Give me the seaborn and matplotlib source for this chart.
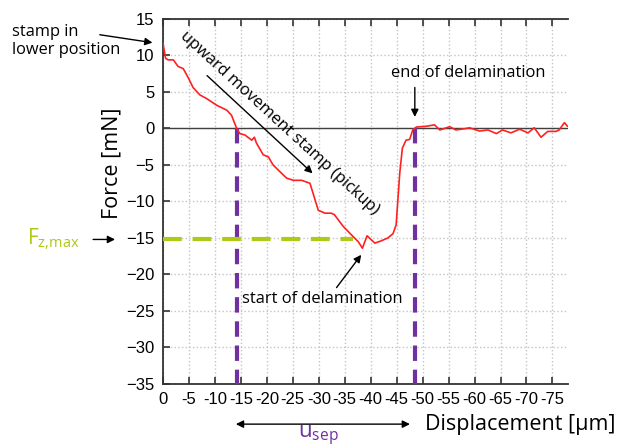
"""Force vs displacement curve of a stamp pickup (delamination test)."""

import matplotlib

matplotlib.use("Agg")
import matplotlib.pyplot as plt
import pandas as pd
import seaborn as sns

displacement = [
    0.0, -0.5, -1.0, -2.0, -2.9, -3.9, -4.9, -5.8, -7.1, -8.4, -10.3, -12.3,
    -13.2, -14.2, -14.8, -15.8, -17.1, -17.6, -18.0, -19.3, -20.3, -21.2,
    -22.5, -23.8, -25.1, -26.7, -28.3, -29.3, -29.9, -31.2, -32.4, -33.0,
    -34.7, -36.6, -37.6, -38.4, -39.3, -40.8, -42.0, -43.3, -44.3, -44.9,
    -45.6, -46.1, -46.8, -47.5, -48.1, -48.8, -50.7, -52.3, -53.3, -54.2,
    -55.2, -56.4, -58.4, -59.0, -61.0, -62.6, -64.2, -65.4, -67.0, -68.7,
    -70.3, -71.5, -72.8, -74.1, -75.7, -76.3, -77.3, -77.9,
]
force = [
    11.7, 9.6, 9.4, 9.4, 8.5, 8.2, 6.9, 5.6, 4.6, 4.1, 3.2, 2.5,
    1.8, 0.0, -0.7, -0.9, -1.6, -1.2, -2.0, -3.6, -3.9, -5.0,
    -5.9, -6.8, -7.1, -7.1, -7.5, -9.8, -11.2, -11.6, -11.6, -11.8,
    -13.4, -14.8, -15.5, -16.4, -14.7, -15.7, -15.4, -15.0, -14.4, -13.2,
    -6.1, -2.7, -1.6, -1.5, -0.2, 0.2, 0.3, 0.5, -0.2, 0.0,
    0.25, -0.2, 0.0, 0.1, -0.35, -0.2, -0.7, -0.2, -0.6, -0.1,
    -0.6, 0.1, -1.2, -0.4, -0.4, -0.2, 0.8, 0.3,
]

SEP_START = -14.2   # start of separation (force crosses zero)
SEP_END = -48.5     # end of delamination
FZ_MAX = -15.2      # maximum pull-off force
FZ_LINE_END = -36.5

x_ticks = list(range(0, -80, -5))
y_ticks = list(range(-35, 20, 5))

PURPLE = "#7030a0"
LIME = "#b0c818"
RED = "#ff2020"
ANNOT_FONT = "Open Sans"

sns.set_theme(style="white")
plt.rcParams["font.family"] = ["Liberation Sans", "DejaVu Sans"]
plt.rcParams["text.color"] = "black"
plt.rcParams["xtick.color"] = "black"
plt.rcParams["ytick.color"] = "black"

df = pd.DataFrame({"displacement": displacement, "force": force})

fig = plt.figure(figsize=(6.25, 4.48), dpi=100)
ax = fig.add_axes([0.2608, 0.1429, 0.648, 0.8147])

ax.grid(True, color="#c4c4c4", linestyle=":", linewidth=1.0)
ax.axhline(0, color="#404040", linewidth=1.0, zorder=1)

sns.lineplot(data=df, x="displacement", y="force", color=RED, linewidth=1.2,
             sort=False, ax=ax, zorder=4)

ax.plot([SEP_START, SEP_START], [0, -35], color=PURPLE, linewidth=3,
        dashes=(3.7, 2.1), zorder=3)
ax.plot([SEP_END, SEP_END], [0, -35], color=PURPLE, linewidth=3,
        dashes=(3.7, 2.1), zorder=3)
ax.plot([0, FZ_LINE_END], [FZ_MAX, FZ_MAX], color=LIME, linewidth=3,
        dashes=(4.5, 2.6), zorder=3)

ax.set_xlim(0, -78)
ax.set_ylim(-35, 15)
ax.set_xticks(x_ticks)
ax.set_xticklabels([str(t) for t in x_ticks])
ax.set_yticks(y_ticks)
ax.set_xlabel("")
ax.set_ylabel("")
ax.tick_params(direction="in", top=True, right=False, bottom=True, left=True,
               length=5, width=1.2, color="#333333", labelsize=12, pad=6,
               labelcolor="black")
for side in ["left", "top", "bottom"]:
    ax.spines[side].set_color("#333333")
    ax.spines[side].set_linewidth(1.3)
ax.spines["right"].set_visible(False)

arrow = dict(arrowstyle="-|>", color="black", linewidth=1.0, mutation_scale=11)

# stamp in lower position
fig.text(12 / 625, 1 - 41 / 448, "stamp in\nlower position", ha="left",
         va="center", fontsize=11.8, family=ANNOT_FONT, linespacing=1.15)
ax.annotate("", xy=(1.5, 11.7), xytext=(12.7, 12.9), arrowprops=arrow,
            annotation_clip=False)

# upward movement
ax.text(-22.4, 0.8, "upward movement stamp (pickup)", rotation=-42.5,
        rotation_mode="anchor", ha="center", va="center", fontsize=11.9,
        family=ANNOT_FONT)
ax.annotate("", xy=(-29.2, -6.4), xytext=(-8.1, 7.5), arrowprops=arrow)

# end of delamination
ax.text(-58.7, 7.6, "end of delamination", ha="center", va="center",
        fontsize=11.9, family=ANNOT_FONT)
ax.annotate("", xy=(SEP_END, 1.2), xytext=(SEP_END, 6.0), arrowprops=arrow)

# start of delamination
ax.text(-15.2, -23.4, "start of delamination", ha="left", va="center",
        fontsize=11.9, family=ANNOT_FONT)
ax.annotate("", xy=(-38.5, -17.0), xytext=(-33.1, -22.1), arrowprops=arrow)

# F_z,max
fig.text(27 / 625, 1 - 239 / 448, r"$\mathregular{F_{z{,}max}}$", ha="left",
         va="center", fontsize=15, color=LIME, family=ANNOT_FONT)
ax.annotate("", xy=(8.7, FZ_MAX), xytext=(14.0, FZ_MAX), arrowprops=arrow,
            annotation_clip=False)

# separation distance
ax.annotate("", xy=(SEP_START + 0.7, -40.5), xytext=(SEP_END + 0.4, -40.5),
            arrowprops=dict(arrowstyle="<|-|>", color="black", linewidth=1.0,
                            mutation_scale=11),
            annotation_clip=False)
fig.text(318 / 625, 1 - 436 / 448, r"$\mathregular{u_{sep}}$", ha="center",
         va="center", fontsize=16, color=PURPLE, family=ANNOT_FONT)

# axis titles
fig.text(520 / 625, 1 - 424 / 448, "Displacement [µm]", ha="center",
         va="center", fontsize=15.5, family=ANNOT_FONT)
fig.text(112 / 625, 1 - 163 / 448, "Force [mN]", ha="center", va="center",
         rotation=90, fontsize=15.5, family=ANNOT_FONT)

fig.savefig("out.png", dpi=100)
